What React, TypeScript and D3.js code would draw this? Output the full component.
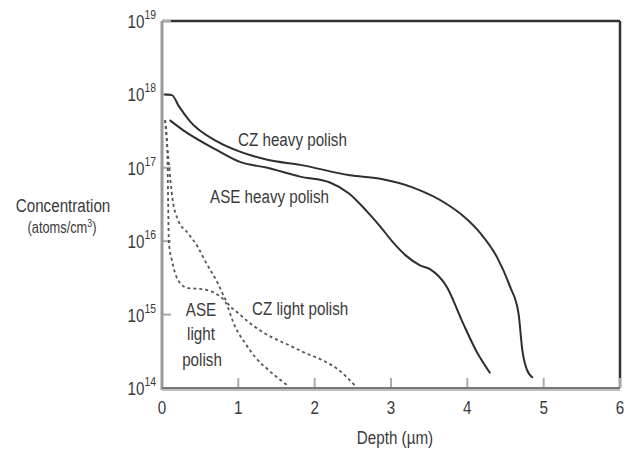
import React from "react";
import * as d3 from "d3";

// Depth (µm) and log10(concentration, atoms/cm^3)
const czHeavyDepth = [0.03, 0.13, 0.22, 0.37, 0.72, 1.02, 1.38, 1.81, 2.46, 2.86, 3.29, 3.74, 3.95, 4.17, 4.39, 4.56, 4.67, 4.72, 4.78, 4.86];
const czHeavyLog = [18.0, 17.99, 17.84, 17.63, 17.36, 17.22, 17.11, 17.04, 16.9, 16.85, 16.73, 16.5, 16.34, 16.11, 15.78, 15.38, 15.02, 14.52, 14.25, 14.14];

const aseHeavyDepth = [0.1, 0.28, 0.72, 1.02, 1.38, 1.81, 2.2, 2.45, 2.69, 2.86, 3.03, 3.2, 3.38, 3.51, 3.73, 3.94, 4.13, 4.3];
const aseHeavyLog = [17.65, 17.51, 17.24, 17.08, 17.0, 16.88, 16.8, 16.65, 16.4, 16.2, 15.98, 15.8, 15.67, 15.62, 15.38, 14.89, 14.48, 14.2];

const aseLightDepth = [0.04, 0.07, 0.08, 0.09, 0.13, 0.21, 0.34, 0.5, 0.63, 0.73, 0.83, 0.96, 1.09, 1.22, 1.39, 1.65];
const aseLightLog = [17.65, 17.24, 16.56, 15.98, 15.74, 15.47, 15.36, 15.35, 15.32, 15.27, 15.17, 14.83, 14.61, 14.42, 14.25, 14.03];

const czLightDepth = [0.04, 0.08, 0.14, 0.21, 0.34, 0.47, 0.56, 0.73, 0.85, 1.0, 1.22, 1.44, 1.65, 1.87, 2.1, 2.31, 2.53];
const czLightLog = [17.65, 17.17, 16.56, 16.29, 16.11, 15.92, 15.74, 15.43, 15.17, 15.02, 14.83, 14.69, 14.59, 14.48, 14.38, 14.25, 14.03];

const xTicks = [0, 1, 2, 3, 4, 5, 6];
const yExponents = [14, 15, 16, 17, 18, 19];

const FONT = "'Liberation Sans', Arial, sans-serif";
const SX = 0.8; // horizontal condensation of the reference's narrow type
const textColor = "#3a3a3a";

function Label(props: { x: number; y: number; anchor?: string; size?: number; children: React.ReactNode }) {
  const { x, y, anchor = "start", size = 19, children } = props;
  return (
    <text
      transform={`translate(${x},${y}) scale(${SX},1)`}
      textAnchor={anchor as any}
      fontSize={size}
      fill={textColor}
    >
      {children}
    </text>
  );
}

export default function App() {
  const W = 629, H = 453;
  const x = d3.scaleLinear().domain([0, 6]).range([162, 620]);
  const y = d3.scaleLog().domain([1e14, 1e19]).range([388, 21]);

  const line = d3
    .line<[number, number]>()
    .x((d) => x(d[0]))
    .y((d) => y(Math.pow(10, d[1])))
    .curve(d3.curveMonotoneX);

  const zip = (a: number[], b: number[]) => a.map((v, i) => [v, b[i]] as [number, number]);

  const solid = [zip(czHeavyDepth, czHeavyLog), zip(aseHeavyDepth, aseHeavyLog)];
  const dashed = [zip(aseLightDepth, aseLightLog), zip(czLightDepth, czLightLog)];

  return (
    <svg
      width={W}
      height={H}
      style={{ position: "fixed", left: 0, top: 0, background: "#fff" }}
      fontFamily={FONT}
    >
      <rect x={0} y={0} width={W} height={H} fill="#fff" />
      {/* frame: top and right dark */}
      <line x1={x(0)} x2={x(6)} y1={y(1e19)} y2={y(1e19)} stroke="#333" strokeWidth={2.5} />
      <line x1={x(6)} x2={x(6)} y1={y(1e19)} y2={y(1e14)} stroke="#333" strokeWidth={2.5} />
      {/* x ticks */}
      {xTicks.map((t) => (
        <line key={"xt" + t} x1={x(t)} x2={x(t)} y1={y(1e14)} y2={y(1e14) - 10} stroke="#aaa" strokeWidth={2} />
      ))}
      {/* y ticks */}
      {yExponents.map((e) => (
        <line key={"yt" + e} x1={x(0)} x2={x(0) + 9} y1={y(Math.pow(10, e))} y2={y(Math.pow(10, e))} stroke="#aaa" strokeWidth={2} />
      ))}
      {/* left and bottom axes, grey */}
      <line x1={x(0)} x2={x(0)} y1={y(1e19)} y2={y(1e14) + 2} stroke="#9a9a9a" strokeWidth={3} />
      <line x1={x(0)} x2={x(6)} y1={y(1e14) + 2} y2={y(1e14) + 2} stroke="#bdbdbd" strokeWidth={2} />
      <line x1={x(0)} x2={x(6)} y1={y(1e14)} y2={y(1e14)} stroke="#777" strokeWidth={2} />

      {/* curves */}
      {solid.map((pts, i) => (
        <path key={"s" + i} d={line(pts) || ""} fill="none" stroke="#2e2e2e" strokeWidth={2} />
      ))}
      {dashed.map((pts, i) => (
        <path key={"d" + i} d={line(pts) || ""} fill="none" stroke="#555" strokeWidth={1.8} strokeDasharray="3,3" />
      ))}

      {/* y tick labels */}
      {yExponents.map((e) => (
        <Label key={"yl" + e} x={156} y={y(Math.pow(10, e)) + 7} anchor="end">
          10
          <tspan dy={-9} fontSize={13}>
            {e}
          </tspan>
        </Label>
      ))}
      {/* x tick labels */}
      {xTicks.map((t) => (
        <Label key={"xl" + t} x={x(t)} y={414} anchor="middle">
          {String(t)}
        </Label>
      ))}
      <Label x={395} y={444} anchor="middle">Depth (µm)</Label>
      <Label x={63} y={212} anchor="middle">Concentration</Label>
      <Label x={62} y={233} anchor="middle" size={16}>
        (atoms/cm
        <tspan dy={-6} fontSize={11}>3</tspan>
        <tspan dy={6}>)</tspan>
      </Label>

      {/* curve labels */}
      <Label x={238} y={146}>CZ heavy polish</Label>
      <Label x={210} y={203}>ASE heavy polish</Label>
      <Label x={252} y={315}>CZ light polish</Label>
      <Label x={201} y={316} anchor="middle">ASE</Label>
      <Label x={201} y={340} anchor="middle">light</Label>
      <Label x={202} y={366} anchor="middle">polish</Label>
    </svg>
  );
}
